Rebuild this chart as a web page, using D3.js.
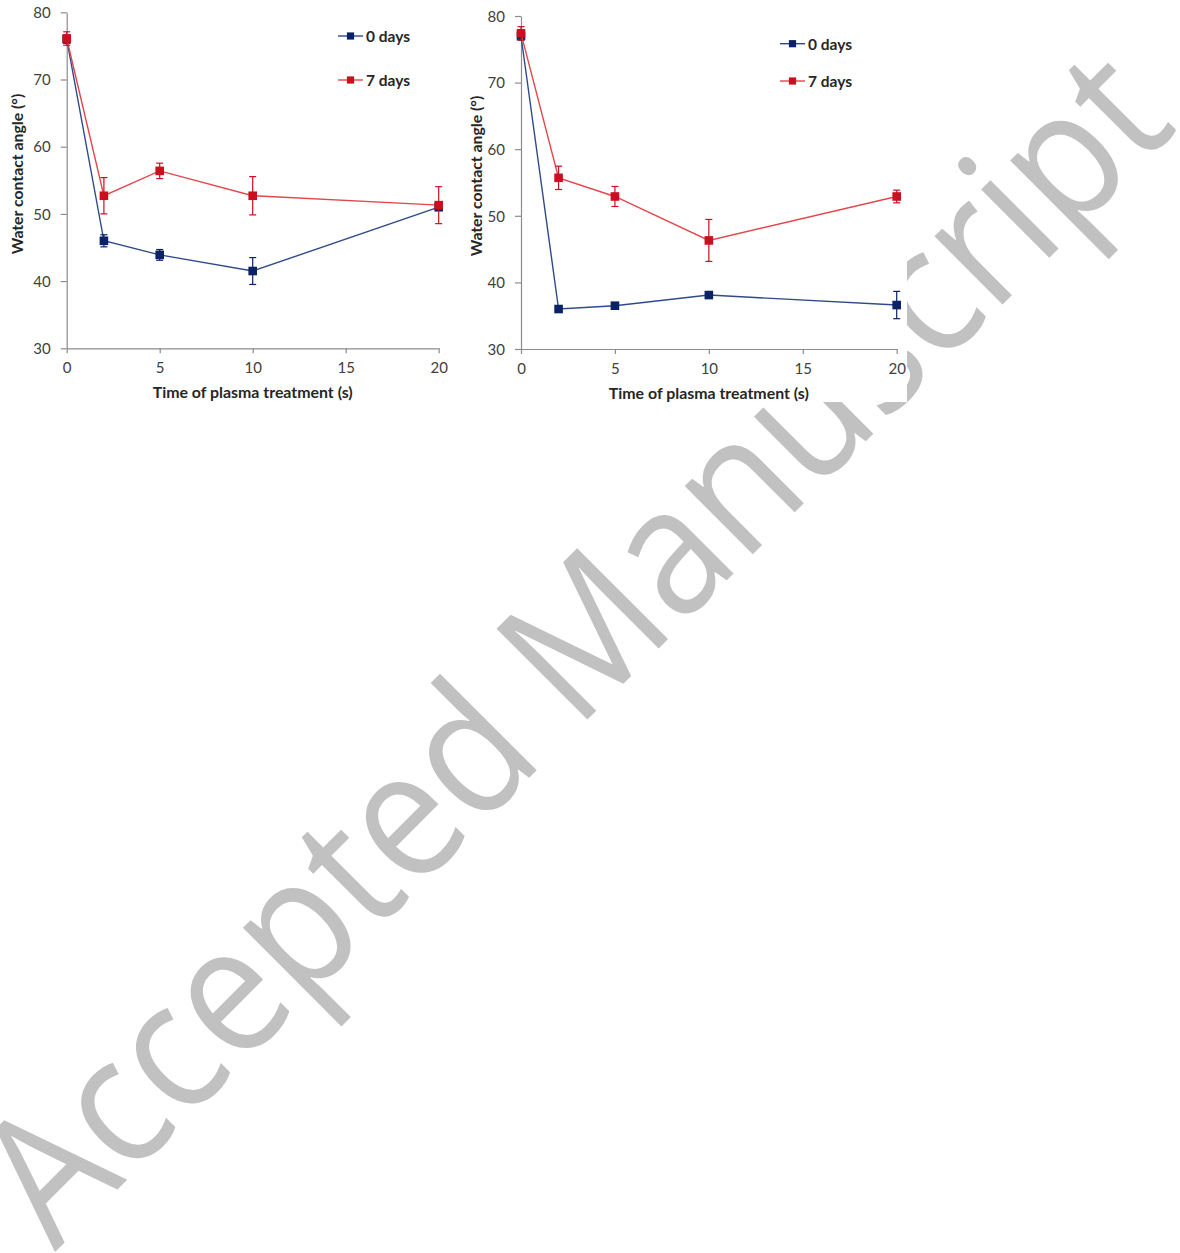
<!DOCTYPE html>
<html>
<head>
<meta charset="utf-8">
<script src="https://cdn.jsdelivr.net/npm/d3@7"></script>
<style>
  html, body { margin: 0; padding: 0; background: #fff; }
  svg { display: block; }
</style>
</head>
<body>
<svg id="chart" width="1180" height="1253"></svg>
<script>
// ---------------- data ----------------
const times = [0, 2, 5, 10, 20];
const xTicks = [0, 5, 10, 15, 20];
const yTicks = [30, 40, 50, 60, 70, 80];
const seriesNames = ["0 days", "7 days"];

const leftDay0    = [76.0, 46.0, 43.9, 41.5, 51.0];
const leftDay0Err = [0.6, 0.9, 0.8, 2.0, 0.5];
const leftDay7    = [76.1, 52.7, 56.4, 52.7, 51.3];
const leftDay7Err = [1.0, 2.7, 1.15, 2.85, 2.75];

const rightDay0    = [77.0, 36.0, 36.5, 38.1, 36.6];
const rightDay0Err = [0.6, 0.3, 0.3, 0.3, 2.05];
const rightDay7    = [77.4, 55.7, 52.9, 46.3, 52.9];
const rightDay7Err = [1.0, 1.75, 1.5, 3.15, 0.95];

const xTitle = "Time of plasma treatment (s)";
const yTitle = "Water contact angle (°)";
const watermark = "Accepted Manuscript";

// ---------------- styles ----------------
const lineColors = ["#2f4a8a", "#e2474b"];
const markColors = ["#0c2266", "#c8101e"];
const axisColor = "#8c8c8c";
const tickText = "#404040";
const titleText = "#262626";
const FONT = "Lato, 'Open Sans', sans-serif";

const svg = d3.select("#chart");

// watermark (behind the figure)
svg.append("text")
  .attr("transform", "translate(55,1252) rotate(-45)")
  .attr("font-family", "'Open Sans', sans-serif")
  .attr("font-size", 180)
  .attr("fill", "#c1c1c1")
  .attr("textLength", 1590)
  .attr("lengthAdjust", "spacingAndGlyphs")
  .text(watermark);

// opaque figure background covering watermark
svg.append("rect").attr("x", 0).attr("y", 0).attr("width", 907).attr("height", 402).attr("fill", "#fff");

const panels = [
  { x0: 66.7, x1: 438.7, yT: 12.3, yB: 348.3,
    vals: [leftDay0, leftDay7], errs: [leftDay0Err, leftDay7Err],
    yTitleX: 16, yTitleY: 174, xTitleY: 398,
    legX: 338, legY: [36, 80] },
  { x0: 521, x1: 896.7, yT: 16, yB: 349,
    vals: [rightDay0, rightDay7], errs: [rightDay0Err, rightDay7Err],
    yTitleX: 475, yTitleY: 176, xTitleY: 399,
    legX: 780, legY: [43.7, 81] }
];

panels.forEach(p => {
  const x = d3.scaleLinear().domain([0, 20]).range([p.x0, p.x1]);
  const y = d3.scaleLinear().domain([30, 80]).range([p.yB, p.yT]);
  const g = svg.append("g");

  // axes
  const ya = g.append("g").attr("transform", `translate(${p.x0},0)`)
    .call(d3.axisLeft(y).tickValues(yTicks).tickSize(6).tickSizeOuter(0).tickPadding(10));
  const xa = g.append("g").attr("transform", `translate(0,${p.yB})`)
    .call(d3.axisBottom(x).tickValues(xTicks).tickSize(5).tickSizeOuter(0).tickPadding(9));
  [ya, xa].forEach(a => {
    a.select(".domain").attr("stroke", axisColor).attr("stroke-width", 1.2);
    a.selectAll(".tick line").attr("stroke", axisColor).attr("stroke-width", 1.2);
    a.selectAll(".tick text").attr("fill", tickText).attr("font-family", FONT).attr("font-size", 15);
  });
  ya.selectAll(".tick text").attr("dy", "0.35em");

  // titles
  g.append("text")
    .attr("transform", `translate(${p.yTitleX},${p.yTitleY}) rotate(-90)`)
    .attr("text-anchor", "middle").attr("dominant-baseline", "central")
    .attr("font-family", FONT).attr("font-weight", "bold").attr("font-size", 15.8)
    .attr("fill", titleText).text(yTitle);
  g.append("text")
    .attr("x", (p.x0 + p.x1) / 2).attr("y", p.xTitleY)
    .attr("text-anchor", "middle")
    .attr("font-family", FONT).attr("font-weight", "bold").attr("font-size", 15.9)
    .attr("fill", titleText).text(xTitle);

  // series
  p.vals.forEach((vals, si) => {
    const pts = times.map((t, i) => ({ t, v: vals[i], e: p.errs[si][i] }));
    g.append("path").datum(pts)
      .attr("fill", "none").attr("stroke", lineColors[si]).attr("stroke-width", 1.4)
      .attr("d", d3.line().x(d => x(d.t)).y(d => y(d.v)));
    const eb = g.append("g").attr("stroke", markColors[si]).attr("stroke-width", 1.2);
    pts.forEach(d => {
      eb.append("line").attr("x1", x(d.t)).attr("x2", x(d.t)).attr("y1", y(d.v - d.e)).attr("y2", y(d.v + d.e));
      eb.append("line").attr("x1", x(d.t) - 3.5).attr("x2", x(d.t) + 3.5).attr("y1", y(d.v - d.e)).attr("y2", y(d.v - d.e));
      eb.append("line").attr("x1", x(d.t) - 3.5).attr("x2", x(d.t) + 3.5).attr("y1", y(d.v + d.e)).attr("y2", y(d.v + d.e));
    });
    g.append("g").selectAll("rect").data(pts).join("rect")
      .attr("x", d => x(d.t) - 4.3).attr("y", d => y(d.v) - 4.3)
      .attr("width", 8.6).attr("height", 8.6).attr("fill", markColors[si]);
  });

  // legend
  seriesNames.forEach((name, si) => {
    const ly = p.legY[si];
    g.append("line").attr("x1", p.legX).attr("x2", p.legX + 25).attr("y1", ly).attr("y2", ly)
      .attr("stroke", lineColors[si]).attr("stroke-width", 1.4);
    g.append("rect").attr("x", p.legX + 12.5 - 3.6).attr("y", ly - 3.6).attr("width", 7.2).attr("height", 7.2)
      .attr("fill", markColors[si]);
    g.append("text").attr("x", p.legX + 28).attr("y", ly).attr("dominant-baseline", "central")
      .attr("font-family", FONT).attr("font-weight", "bold").attr("font-size", 15.5)
      .attr("fill", titleText).text(name);
  });
});
</script>
</body>
</html>
